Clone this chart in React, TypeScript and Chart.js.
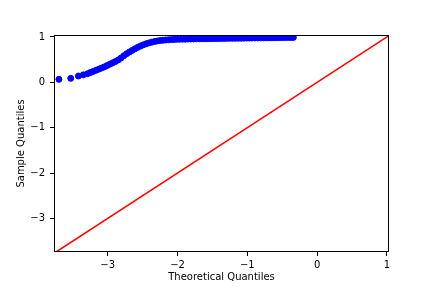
import React, { useEffect, useRef } from 'react';
import { Chart, registerables } from 'chart.js';

Chart.register(...registerables);

const theoreticalQuantiles = [
  -3.70, -3.53, -3.42, -3.35, -3.29, -3.25, -3.21, -3.17, -3.13, -3.09,
  -3.05, -3.01, -2.97, -2.93, -2.89, -2.85, -2.81, -2.77, -2.73, -2.69,
  -2.65, -2.61, -2.57, -2.53, -2.49, -2.45, -2.41, -2.37, -2.33, -2.29,
  -2.25, -2.21, -2.17, -2.13, -2.09, -2.05, -2.01, -1.97, -1.93, -1.89,
  -1.85, -1.81, -1.77, -1.73, -1.69, -1.65, -1.61, -1.57, -1.53, -1.49,
  -1.45, -1.41, -1.37, -1.33, -1.29, -1.25, -1.21, -1.17, -1.13, -1.09,
  -1.05, -1.01, -0.97, -0.93, -0.89, -0.85, -0.81, -0.77, -0.73, -0.69,
  -0.65, -0.61, -0.57, -0.53, -0.49, -0.45, -0.41, -0.37, -0.34,
];

const sampleQuantiles = [
  0.066, 0.088, 0.140, 0.165, 0.190, 0.215, 0.240, 0.265, 0.290, 0.315,
  0.340, 0.370, 0.400, 0.430, 0.460, 0.495, 0.535, 0.585, 0.630, 0.668,
  0.705, 0.740, 0.772, 0.802, 0.827, 0.850, 0.869, 0.886, 0.900, 0.912,
  0.922, 0.928, 0.934, 0.939, 0.943, 0.946, 0.949, 0.951, 0.952, 0.953,
  0.955, 0.956, 0.957, 0.959, 0.960, 0.961, 0.962, 0.963, 0.964, 0.965,
  0.966, 0.967, 0.968, 0.969, 0.970, 0.971, 0.972, 0.972, 0.973, 0.974,
  0.975, 0.976, 0.977, 0.978, 0.979, 0.980, 0.981, 0.982, 0.982, 0.983,
  0.984, 0.985, 0.986, 0.987, 0.988, 0.989, 0.990, 0.990, 0.991,
];

const xTickValues = [-3, -2, -1, 0, 1];
const yTickValues = [-3, -2, -1, 0, 1];
const xLimits = [-3.77, 1.03];
const yLimits = [-3.74, 1.044];
const referenceLineEnds = [-3.74, 1.03];

const fmt = (v: number) => (v < 0 ? '\u2212' + Math.abs(v) : String(v));

const framePlugin = {
  id: 'frame',
  afterDatasetsDraw(chart: any) {
    const { ctx, chartArea } = chart;
    ctx.save();
    ctx.strokeStyle = '#000';
    ctx.lineWidth = 1;
    ctx.strokeRect(
      chartArea.left + 0.5,
      chartArea.top + 0.5,
      chartArea.right - chartArea.left - 1,
      chartArea.bottom - chartArea.top - 1
    );
    ctx.restore();
  },
};

export default function App() {
  const ref = useRef<HTMLCanvasElement | null>(null);

  useEffect(() => {
    document.body.style.margin = '0';
    if (!ref.current) return;
    const points = theoreticalQuantiles.map((x, i) => ({ x, y: sampleQuantiles[i] }));
    const line = referenceLineEnds.map((v) => ({ x: v, y: v }));
    const font = { family: 'DejaVu Sans', size: 10 };
    const chart = new Chart(ref.current, {
      type: 'scatter',
      data: {
        datasets: [
          {
            data: line,
            showLine: true,
            borderColor: '#ff0000',
            borderWidth: 1.5,
            pointRadius: 0,
            clip: 0,
          } as any,
          {
            data: points,
            backgroundColor: '#0000ff',
            borderColor: '#0000ff',
            borderWidth: 1,
            pointRadius: 3,
          },
        ],
      },
      options: {
        animation: false,
        responsive: false,
        devicePixelRatio: 1,
        layout: { padding: { left: 0, right: 43, top: 35, bottom: 0 } },
        plugins: { legend: { display: false }, tooltip: { enabled: false } },
        scales: {
          x: {
            type: 'linear',
            min: xLimits[0],
            max: xLimits[1],
            afterBuildTicks: (s: any) => {
              s.ticks = xTickValues.map((value) => ({ value }));
            },
            afterFit: (s: any) => {
              s.height = 36;
            },
            border: { display: false },
            grid: {
              drawOnChartArea: false,
              drawTicks: true,
              tickLength: 4,
              tickColor: '#000',
              lineWidth: 1,
            },
            ticks: {
              color: '#000',
              font,
              padding: 3,
              maxRotation: 0,
              callback: (v: any) => fmt(Number(v)),
            },
            title: {
              display: true,
              text: 'Theoretical Quantiles',
              color: '#000',
              font,
              padding: { top: 0, bottom: 5 },
            },
          },
          y: {
            type: 'linear',
            min: yLimits[0],
            max: yLimits[1],
            afterBuildTicks: (s: any) => {
              s.ticks = yTickValues.map((value) => ({ value }));
            },
            afterFit: (s: any) => {
              s.width = 54;
            },
            border: { display: false },
            grid: {
              drawOnChartArea: false,
              drawTicks: true,
              tickLength: 4,
              tickColor: '#000',
              lineWidth: 1,
            },
            ticks: {
              color: '#000',
              font,
              padding: 5,
              callback: (v: any) => fmt(Number(v)),
            },
            title: {
              display: true,
              text: 'Sample Quantiles',
              color: '#000',
              font,
              padding: { top: 15, bottom: 0 },
            },
          },
        },
      },
      plugins: [framePlugin],
    });
    return () => chart.destroy();
  }, []);

  return (
    <div style={{ width: 432, height: 288, background: '#fff' }}>
      <canvas ref={ref} width={432} height={288} />
    </div>
  );
}
